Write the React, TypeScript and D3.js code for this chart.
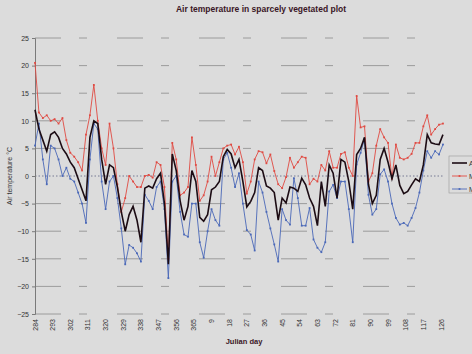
import React, { useEffect, useRef } from 'react';
import * as d3 from 'd3';

// day index 0 = julian day 284, sampled every second day
const step = 2;
const tickDays = [284, 293, 302, 311, 320, 329, 338, 347, 356, 365, 9, 18, 27, 36, 45, 54, 63, 72, 81, 90, 99, 108, 117, 126];
const yTicks = [25, 20, 15, 10, 5, 0, -5, -10, -15, -20, -25];

const maxTemp = [
  20.5, 11.5, 10.5, 11, 10, 10.3, 9.5, 10.5, 6.5, 4.2, 3.5, 2.5, 1, 7.5, 11, 16.5, 10, 5, 2, 9.5, 5, -1.5, -6.5, -4, 0, -1, -2,
  -2, 0, 0.2, -0.3, 2.5, 2, -2, -15, 6, 3, -3.5, -3, -2, 7, 2, -4.5, -3.5, -1, 3.5, 0, 2.5, 5, 5.5, 5.7, 3.9,
  5.3, 2.5, -3.2, -1, 3, 4.5, 4.3, 2.3, 3.9, 0.9, -1.5, -2.2, -0.2, 3.3, 1.5, 2.5, 3.5, 3.3, -1.5, -0.5, -1, 2, 1, 4.5, 1.5, 1.5,
  4, 4.3, 1.5, 0, 14.5, 8.8, 9, -1, 0.5, 5.5, 8.5, 7, 6, -0.5, 5.7, 3.3, 3, 3.3, 4, 6, 6, 9, 11, 7.5, 8.5, 9.3, 9.5,
];
const avgTemp = [
  12, 8.5, 6.5, 4.5, 7.5, 8, 7, 5, 4, 2.5, 1.5, -0.5, -2.5, -4.5, 7, 10, 9.5, 3, -1.5, 2, 1.5, -2, -6.5, -10, -7, -5.5, -8,
  -12, -2.2, -1.8, -2.2, -0.5, 0.5, -5, -16, 4, 1, -4.5, -8, -5.5, 1, -1, -7.5, -8.2, -7, -2.5, -2, -1, 3.5, 4.8, 4, 1.5,
  3, -1, -5.6, -4.6, -3, 1.5, 1, -1.8, -2.2, -3, -8, -4, -4.9, -2, -2.2, -2.8, -0.4, -1.6, -4, -5.5, -9, -1, -5.5, 2, 0.5, -4,
  3, 2.5, -1, -6, 3.9, 5, 7, -1.5, -5, -3.5, 3, 5, 2.5, -0.5, 2, -1.7, -3.2, -2.8, -1.6, -0.5, -1, 2, 7.5, 6, 5.8, 5.7, 7.5,
];
const minTemp = [
  5.5, 9.5, 3, -1.5, 5.5, 5, 3, 0, 1.5, -0.5, -1, -3, -5, -8.5, 3, 9.5, 8.5, -1, -6, -1, 0, -4, -9.5, -16, -12.5, -13, -14,
  -15.5, -3.4, -4.5, -6, -2, -1, -6, -18.5, -1, 0, -6.5, -10.6, -11, -5, -5, -12, -14.8, -10, -6, -8, -9, 3, 4.2, 1.5, -2,
  0.5, -5, -9.8, -10.6, -13.5, -1, -3, -6.5, -9.5, -12.4, -15.5, -6, -8, -8.8, -0.4, -4, -9, -9, -5.8, -11.5, -13, -13.8, -12, -2.8, -1.6, -4,
  -1, -1, -6, -12, 2.1, 4.2, 6.7, -3.4, -7, -6, 0.3, 1.2, -1, -5, -7.6, -8.8, -8.5, -9, -7.6, -5.8, -3, 1, 4.5, 3.3, 4.5, 3.9, 5.7,
];

const seriesNames = ['Average', 'Maximum', 'Minimum'];

export default function App() {
  const svgRef = useRef<SVGSVGElement>(null);

  useEffect(() => {
    const svg = d3.select(svgRef.current);
    svg.selectAll('*').remove();
    const W = 472, H = 354;
    const font = 'Liberation Sans, Arial, sans-serif';

    const x = d3.scaleLinear().domain([0, 207]).range([35, 441]);
    const y = d3.scaleLinear().domain([-25, 25]).range([314, 38]);

    svg.append('rect').attr('width', W).attr('height', H).attr('fill', '#dcdcdc');

    // title
    svg.append('text').attr('x', 261).attr('y', 12).attr('text-anchor', 'middle')
      .attr('font-family', font).attr('font-size', 8.5).attr('font-weight', 'bold')
      .attr('fill', '#3a1626').text('Air temperature in sparcely vegetated plot');

    // horizontal grid
    svg.append('g').selectAll('line').data(yTicks.filter(t => t !== 0)).join('line')
      .attr('x1', 35).attr('x2', 443)
      .attr('y1', d => y(d)).attr('y2', d => y(d))
      .attr('stroke', '#8c8c8c').attr('stroke-width', 0.8)
      .attr('stroke-dasharray', '26,18,8,30');
    svg.append('line').attr('x1', 35).attr('x2', 443).attr('y1', y(0)).attr('y2', y(0))
      .attr('stroke', '#5a6080').attr('stroke-width', 0.8).attr('stroke-dasharray', '1.5,2');

    // y axis
    const yAxis = svg.append('g').attr('transform', 'translate(35,0)')
      .call(d3.axisLeft(y).tickValues(yTicks).tickSize(3).tickPadding(3));
    yAxis.select('.domain').attr('stroke', '#7a7a7a');
    yAxis.selectAll('line').attr('stroke', '#7a7a7a');
    yAxis.selectAll('text').attr('font-family', font).attr('font-size', 7).attr('fill', '#333');

    svg.append('text').attr('transform', `translate(12,${y(0)}) rotate(-90)`)
      .attr('text-anchor', 'middle').attr('font-family', font).attr('font-size', 7)
      .attr('fill', '#333').text('Air temperature °C');

    // x tick labels
    svg.append('g').selectAll('text').data(tickDays).join('text')
      .attr('transform', (d, i) => `translate(${x(i * 9) + 2.5},319) rotate(-90)`)
      .attr('text-anchor', 'end').attr('font-family', font).attr('font-size', 7)
      .attr('fill', '#333').text(d => d);

    svg.append('text').attr('x', 244).attr('y', 344).attr('text-anchor', 'middle')
      .attr('font-family', font).attr('font-size', 7.5).attr('font-weight', 'bold')
      .attr('fill', '#3a1626').text('Julian day');

    const line = d3.line<number>().x((d, i) => x(i * step)).y(d => y(d));

    const series = [
      { data: minTemp, color: '#4a68b8', width: 0.9, marks: true },
      { data: maxTemp, color: '#e04a42', width: 0.9, marks: true },
      { data: avgTemp, color: '#1c0c14', width: 1.6, marks: false },
    ];
    series.forEach(s => {
      svg.append('path').datum(s.data).attr('d', line).attr('fill', 'none')
        .attr('stroke', s.color).attr('stroke-width', s.width);
      if (s.marks) {
        svg.append('g').selectAll('rect').data(s.data).join('rect')
          .attr('x', (d, i) => x(i * step) - 0.9).attr('y', d => y(d) - 0.9)
          .attr('width', 1.8).attr('height', 1.8).attr('fill', s.color);
      }
    });

    // legend (partly outside the window)
    const legend = [
      { name: seriesNames[0], color: '#1c0c14', width: 1.6, marks: false },
      { name: seriesNames[1], color: '#e04a42', width: 0.9, marks: true },
      { name: seriesNames[2], color: '#4a68b8', width: 0.9, marks: true },
    ];
    svg.append('rect').attr('x', 449).attr('y', 156).attr('width', 60).attr('height', 37)
      .attr('fill', 'none').attr('stroke', '#9a9a9a').attr('stroke-width', 0.6);
    legend.forEach((l, i) => {
      const ly = 163 + i * 13;
      svg.append('line').attr('x1', 452).attr('x2', 467).attr('y1', ly).attr('y2', ly)
        .attr('stroke', l.color).attr('stroke-width', l.width);
      if (l.marks) {
        svg.append('rect').attr('x', 458.6).attr('y', ly - 0.9).attr('width', 1.8).attr('height', 1.8).attr('fill', l.color);
      }
      svg.append('text').attr('x', 469).attr('y', ly + 2.5).attr('font-family', font)
        .attr('font-size', 7).attr('fill', '#333').text(l.name);
    });
  }, []);

  return (
    <div style={{ position: 'absolute', left: 0, top: 0 }}>
      <svg ref={svgRef} width={472} height={354} style={{ display: 'block' }}></svg>
    </div>
  );
}
